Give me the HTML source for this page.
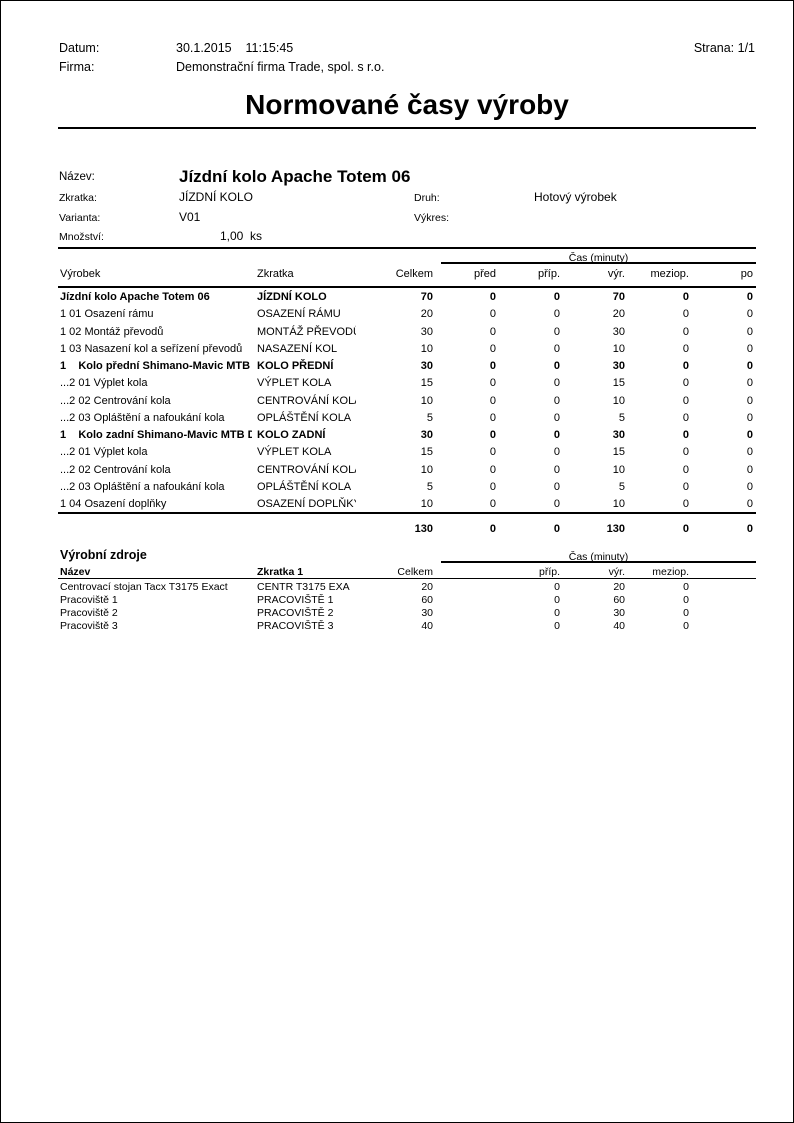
<!DOCTYPE html>
<html><head><meta charset="utf-8"><style>
body{margin:0;background:#fff}
#p{position:relative;width:792px;height:1121px;border:1px solid #000;overflow:hidden;font-family:"Liberation Sans","DejaVu Sans",sans-serif;color:#000}
.t{position:absolute;white-space:nowrap;line-height:14px;font-size:11px}
.r{text-align:right}
.b{font-weight:bold}
.ln{position:absolute;background:#000}
.c{overflow:hidden}
</style></head><body><div id="p">
<div class="t" style="left:58px;top:40px;font-size:12.5px">Datum:</div>
<div class="t" style="left:175px;top:40px;font-size:12.5px">30.1.2015&nbsp;&nbsp;&nbsp; 11:15:45</div>
<div class="t r" style="right:38px;top:40px;font-size:12.5px">Strana: 1/1</div>
<div class="t" style="left:58px;top:59px;font-size:12.5px">Firma:</div>
<div class="t" style="left:175px;top:59px;font-size:12.5px">Demonstrační firma Trade, spol. s r.o.</div>
<div class="t b" style="left:0;width:812px;text-align:center;top:87px;font-size:28px;line-height:34px">Normované časy výroby</div>
<div class="ln" style="left:57px;top:126px;width:698px;height:2px"></div>

<div class="t" style="left:58px;top:169px;font-size:11.5px">Název:</div>
<div class="t b" style="left:178px;top:166px;font-size:17px;line-height:20px">Jízdní kolo Apache Totem 06</div>
<div class="t" style="left:58px;top:190px;font-size:10.5px">Zkratka:</div>
<div class="t" style="left:178px;top:189px;font-size:12px">JÍZDNÍ KOLO</div>
<div class="t" style="left:413px;top:190px;font-size:10.5px">Druh:</div>
<div class="t" style="left:533px;top:189px;font-size:12px">Hotový výrobek</div>
<div class="t" style="left:58px;top:210px;font-size:10.5px">Varianta:</div>
<div class="t" style="left:178px;top:209px;font-size:12px">V01</div>
<div class="t" style="left:413px;top:210px;font-size:10.5px">Výkres:</div>
<div class="t" style="left:58px;top:229px;font-size:10.5px">Množství:</div>
<div class="t" style="left:219px;top:228px;font-size:12px">1,00&nbsp; ks</div>

<div class="ln" style="left:57px;top:246px;width:698px;height:2px"></div>
<div class="t" style="left:440px;width:315px;text-align:center;top:250px;font-size:10.5px">Čas (minuty)</div>
<div class="ln" style="left:440px;top:261px;width:315px;height:2px"></div>
<div class="t" style="left:59px;top:266px">Výrobek</div>
<div class="t" style="left:256px;top:266px">Zkratka</div>
<div class="t r" style="right:360px;top:266px">Celkem</div>
<div class="t r" style="right:297px;top:266px">před</div>
<div class="t r" style="right:233px;top:266px">příp.</div>
<div class="t r" style="right:168px;top:266px">výr.</div>
<div class="t r" style="right:104px;top:266px">meziop.</div>
<div class="t r" style="right:40px;top:266px">po</div>
<div class="ln" style="left:57px;top:285px;width:698px;height:2px"></div>

<div id="rows"></div>
<div class="ln" style="left:57px;top:511px;width:698px;height:2px"></div>
<div class="t b r" style="right:360px;top:521px">130</div>
<div class="t b r" style="right:297px;top:521px">0</div>
<div class="t b r" style="right:233px;top:521px">0</div>
<div class="t b r" style="right:168px;top:521px">130</div>
<div class="t b r" style="right:104px;top:521px">0</div>
<div class="t b r" style="right:40px;top:521px">0</div>

<div class="t b" style="left:59px;top:547px;font-size:12.5px">Výrobní zdroje</div>
<div class="t" style="left:440px;width:315px;text-align:center;top:549px;font-size:10.5px">Čas (minuty)</div>
<div class="ln" style="left:440px;top:560px;width:315px;height:2px"></div>
<div class="t b" style="left:59px;top:564px;font-size:10.5px">Název</div>
<div class="t b" style="left:256px;top:564px;font-size:10.5px">Zkratka 1</div>
<div class="t r" style="right:360px;top:564px;font-size:10.5px">Celkem</div>
<div class="t r" style="right:233px;top:564px;font-size:10.5px">příp.</div>
<div class="t r" style="right:168px;top:564px;font-size:10.5px">výr.</div>
<div class="t r" style="right:104px;top:564px;font-size:10.5px">meziop.</div>
<div class="ln" style="left:57px;top:577px;width:698px;height:1px"></div>
<div id="res"></div>
</div>
<script>
var rows=[
["Jízdní kolo Apache Totem 06","JÍZDNÍ KOLO",70,1],
["1 01 Osazení rámu","OSAZENÍ RÁMU",20,0],
["1 02 Montáž převodů","MONTÁŽ PŘEVODŮ",30,0],
["1 03 Nasazení kol a seřízení převodů","NASAZENÍ KOL",10,0],
["1&nbsp;&nbsp;&nbsp; Kolo přední Shimano-Mavic MTB Deore","KOLO PŘEDNÍ",30,1],
["...2 01 Výplet kola","VÝPLET KOLA",15,0],
["...2 02 Centrování kola","CENTROVÁNÍ KOLA",10,0],
["...2 03 Opláštění a nafoukání kola","OPLÁŠTĚNÍ KOLA",5,0],
["1&nbsp;&nbsp;&nbsp; Kolo zadní Shimano-Mavic MTB Deore","KOLO ZADNÍ",30,1],
["...2 01 Výplet kola","VÝPLET KOLA",15,0],
["...2 02 Centrování kola","CENTROVÁNÍ KOLA",10,0],
["...2 03 Opláštění a nafoukání kola","OPLÁŠTĚNÍ KOLA",5,0],
["1 04 Osazení doplňky","OSAZENÍ DOPLŇKY",10,0]];
var h="";
rows.forEach(function(r,i){var y=289+Math.round(i*17.25);var b=r[3]?" b":"";
h+='<div class="t c'+b+'" style="left:59px;width:192px;top:'+y+'px">'+r[0]+'</div>';
h+='<div class="t c'+b+'" style="left:256px;width:99px;top:'+y+'px">'+r[1]+'</div>';
[[360,r[2]],[297,0],[233,0],[168,r[2]],[104,0],[40,0]].forEach(function(c){h+='<div class="t r'+b+'" style="right:'+c[0]+'px;top:'+y+'px">'+c[1]+'</div>';});});
document.getElementById("rows").outerHTML=h;
var res=[["Centrovací stojan Tacx T3175 Exact","CENTR T3175 EXA",20],["Pracoviště 1","PRACOVIŠTĚ 1",60],["Pracoviště 2","PRACOVIŠTĚ 2",30],["Pracoviště 3","PRACOVIŠTĚ 3",40]];
h="";
res.forEach(function(r,i){var y=580+i*13;var s="font-size:10.5px;line-height:13px;";
h+='<div class="t c" style="'+s+'left:59px;width:194px;top:'+y+'px">'+r[0]+'</div>';
h+='<div class="t" style="'+s+'left:256px;top:'+y+'px">'+r[1]+'</div>';
[[360,r[2]],[233,0],[168,r[2]],[104,0]].forEach(function(c){h+='<div class="t r" style="'+s+'right:'+c[0]+'px;top:'+y+'px">'+c[1]+'</div>';});});
document.getElementById("res").outerHTML=h;
</script>
</body></html>
